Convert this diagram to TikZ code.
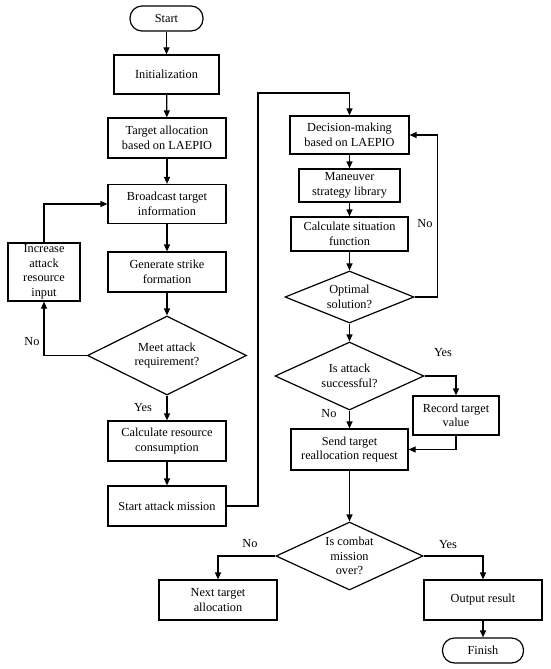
\documentclass[tikz,border=0pt]{standalone}
\usepackage{fontspec}
\setmainfont{Liberation Serif}
\usetikzlibrary{shapes.geometric,arrows.meta}
\begin{document}
\begin{tikzpicture}[x=1pt,y=-1pt]
\tikzstyle{every node}+=[inner sep=0pt,align=center,font=\fontsize{12.3}{14.5}\selectfont]
\tikzstyle{proc}=[draw,line width=1.2pt,minimum width=118pt,minimum height=40pt]
\tikzstyle{term}=[draw,line width=1.2pt,rounded corners=12pt,minimum width=73pt,minimum height=25pt]
\tikzstyle{cond}=[draw,diamond,aspect=2.2,line width=1.2pt]
\tikzstyle{arrow}=[line width=1.2pt,-{Triangle[length=7pt,width=6pt]}]
\useasboundingbox (0,0) rectangle (550,669);

% left column
\node [term] (start) at (166.5,18.5) {Start};
\node [proc,minimum width=105pt,minimum height=39pt] (init) at (166.5,74.5) {Initialization};
\node [proc] (alloc) at (167,138) {Target allocation\\based on LAEPIO};
\node [proc,minimum height=39pt] (bcast) at (167,204) {Broadcast target\\information};
\node [proc] (gen) at (167,272) {Generate strike\\formation};
\node [proc,minimum width=72pt,minimum height=58pt] (incr) at (44,272) {Increase\\attack\\resource\\input};
\node [cond,minimum width=159pt,minimum height=79pt] (meet) at (167,355.5) {Meet attack\\requirement?};
\node [proc] (calc) at (167,441) {Calculate resource\\consumption};
\node [proc] (attack) at (167,506) {Start attack mission};

% right column
\node [proc,minimum width=119pt,minimum height=38pt] (dec) at (349.5,135) {Decision-making\\based on LAEPIO};
\node [proc,minimum width=101pt,minimum height=33pt] (man) at (349.5,185.5) {Maneuver\\strategy library};
\node [proc,minimum width=117pt,minimum height=34pt] (sit) at (349.5,234) {Calculate situation\\function};
\node [cond,minimum width=129pt,minimum height=52pt] (opt) at (349.5,297) {Optimal\\solution?};
\node [cond,minimum width=149pt,minimum height=68pt] (succ) at (349.5,376) {Is attack\\successful?};
\node [proc,minimum width=86pt,minimum height=39pt] (rec) at (456,415.5) {Record target\\value};
\node [proc,minimum width=117pt,minimum height=41pt] (send) at (349.5,449.5) {Send target\\reallocation request};
\node [cond,minimum width=147pt,minimum height=68pt] (over) at (349.5,556) {Is combat\\mission\\over?};
\node [proc] (next) at (218,600) {Next target\\allocation};
\node [proc] (out) at (483,600) {Output result};
\node [term,minimum width=81pt] (fin) at (483,650.5) {Finish};

% labels
\node (noMeet) at (32,342) {No};
\node (yesMeet) at (143,408) {Yes};
\node (noOpt) at (425,224) {No};
\node (yesSucc) at (443,353) {Yes};
\node (noSucc) at (329,414) {No};
\node (noOver) at (250,544) {No};
\node (yesOver) at (448,545) {Yes};

\coordinate (bend) at (258,93);

\draw [arrow] (start) -- (init);
\draw [arrow] (init) -- (alloc);
\draw [arrow] (alloc) -- (bcast);
\draw [arrow] (bcast) -- (gen);
\draw [arrow] (gen) -- (meet);
\draw [arrow] (meet) -- (calc);
\draw [arrow] (calc) -- (attack);
\draw [arrow] (meet.west) -| (incr.south);
\draw [arrow] (incr.north) |- (bcast.west);

\draw [arrow] (attack.east) -| (bend) -| (dec.north);
\draw [arrow] (dec) -- (man);
\draw [arrow] (man) -- (sit);
\draw [arrow] (sit) -- (opt);
\draw [arrow] (opt) -- (succ);
\draw [arrow] (opt.east) -- ++(23,0) |- (dec.east);
\draw [arrow] (succ.east) -| (rec.north);
\draw [arrow] (succ) -- (send);
\draw [arrow] (rec.south) |- (send.east);
\draw [arrow] (send) -- (over);
\draw [arrow] (over.west) -| (next.north);
\draw [arrow] (over.east) -| (out.north);
\draw [arrow] (out) -- (fin);
\end{tikzpicture}
\end{document}
